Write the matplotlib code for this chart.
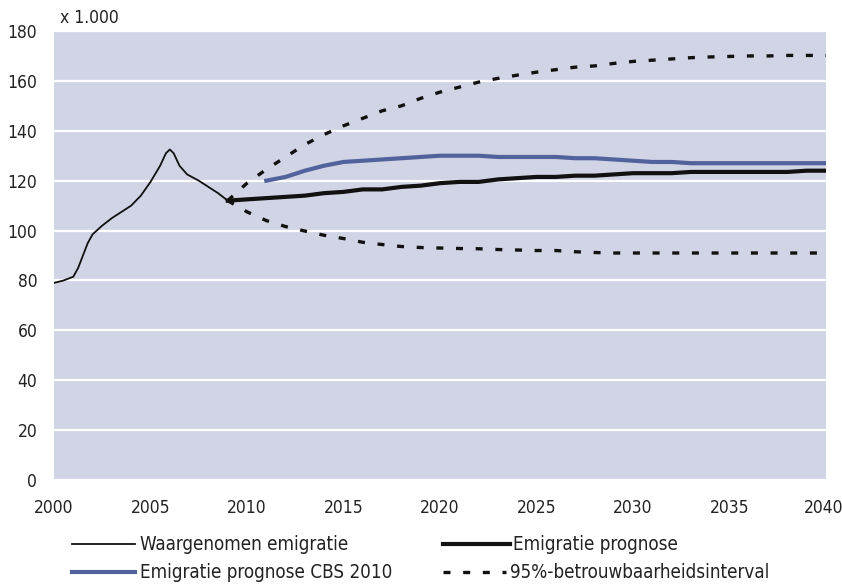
import matplotlib
matplotlib.use("Agg")
import matplotlib.pyplot as plt
from matplotlib.lines import Line2D
from matplotlib.transforms import ScaledTranslation

# ---- data ----
obs_years = [2000, 2000.5, 2001, 2001.25, 2001.5, 2001.75, 2002, 2002.5, 2003, 2003.5,
             2004, 2004.5, 2005, 2005.5, 2005.8, 2006, 2006.2, 2006.5, 2006.9, 2007.5,
             2008, 2008.5, 2009]
obs_vals = [79, 80, 81.5, 85, 90, 95, 98.5, 102, 105, 107.5,
            110, 114, 119.5, 126, 131, 132.5, 131, 126, 122.5, 120,
            117.5, 115, 112]

proj_years = list(range(2009, 2041))
proj_vals = [112, 112.5, 113, 113.5, 114, 115, 115.5, 116.5, 116.5, 117.5,
             118, 119, 119.5, 119.5, 120.5, 121, 121.5, 121.5, 122, 122,
             122.5, 123, 123, 123, 123.5, 123.5, 123.5, 123.5, 123.5, 123.5,
             124, 124]

cbs_years = list(range(2011, 2041))
cbs_vals = [120, 121.5, 124, 126, 127.5, 128, 128.5, 129, 129.5, 130,
            130, 130, 129.5, 129.5, 129.5, 129.5, 129, 129, 128.5, 128,
            127.5, 127.5, 127, 127, 127, 127, 127, 127, 127, 127]

ci_years = list(range(2009, 2041))
ci_upper = [112, 119, 124.5, 129.5, 134.5, 138.5, 142, 145, 148, 150,
            153, 155.5, 157.5, 159.5, 161, 162.3, 163.5, 164.5, 165.5, 166,
            167, 167.8, 168.3, 168.8, 169.3, 169.6, 169.8, 170, 170, 170.2,
            170.2, 170.2]
ci_lower = [112, 107.5, 104, 101.6, 99.8, 98.1, 96.8, 95.3, 94.4, 93.6,
            93.2, 93, 92.8, 92.7, 92.4, 92.2, 92, 92, 91.5, 91.2,
            91, 91, 91, 91, 91, 91, 91, 91, 91, 91,
            91, 91]

xticks = list(range(2000, 2041, 5))
yticks = list(range(0, 181, 20))

labels = ["Waargenomen emigratie", "Emigratie prognose",
          "Emigratie prognose CBS 2010", "95%-betrouwbaarheidsinterval"]

# ---- style ----
plt.rcParams['font.family'] = ['DejaVu Sans']
plt.rcParams['font.stretch'] = 'condensed'

bg = "#d0d4e4"
blue = "#52629c"
black = "#111111"
txt = "#222222"
ci_style = (0, (2.1, 3.8))

fig = plt.figure(figsize=(8.42, 5.84), dpi=100)
ax = fig.add_axes([54/842, 1-480/584, (826-54)/842, (480-31)/584])
ax.set_facecolor(bg)
for s in ax.spines.values():
    s.set_visible(False)
ax.set_xlim(2000, 2040)
ax.set_ylim(0, 180)
ax.set_xticks(xticks)
ax.set_yticks(yticks)
ax.yaxis.grid(True, color="white", lw=1.6)
ax.set_axisbelow(True)
ax.tick_params(length=0, labelsize=12.5, colors=txt)
ax.tick_params(axis='y', pad=12)
ax.tick_params(axis='x', pad=14)

# keep the last x label inside the canvas
last = ax.xaxis.get_major_ticks()[-1].label1
last.set_transform(last.get_transform() + ScaledTranslation(-2/72, 0, fig.dpi_scale_trans))

ax.plot(ci_years, ci_upper, color=black, lw=2.4, linestyle=ci_style)
ax.plot(ci_years, ci_lower, color=black, lw=2.4, linestyle=ci_style)
ax.plot(cbs_years, cbs_vals, color=blue, lw=3)
ax.plot(obs_years, obs_vals, color=black, lw=1.3)
ax.plot(proj_years, proj_vals, color=black, lw=3)

fig.text(60/842, 1-18/584, "x 1.000", fontsize=12.5, color=txt,
         ha="left", va="center")

# manual legend (2 x 2)
W, H = 842, 584
entries = [
    (72, 135, 140, 544, dict(color=black, lw=1.3), labels[0]),
    (443, 510, 513, 544, dict(color=black, lw=3), labels[1]),
    (72, 135, 140, 572, dict(color=blue, lw=3), labels[2]),
    (443, 506, 510, 572, dict(color=black, lw=2.4, linestyle=ci_style), labels[3]),
]
for x0, x1, xt, y, kw, lab in entries:
    fig.add_artist(Line2D([x0/W, x1/W], [1-y/H, 1-y/H], transform=fig.transFigure, **kw))
    fig.text(xt/W, 1-y/H, lab, fontsize=13.5, color=txt, ha="left", va="center")

fig.savefig("out.png", dpi=100)
